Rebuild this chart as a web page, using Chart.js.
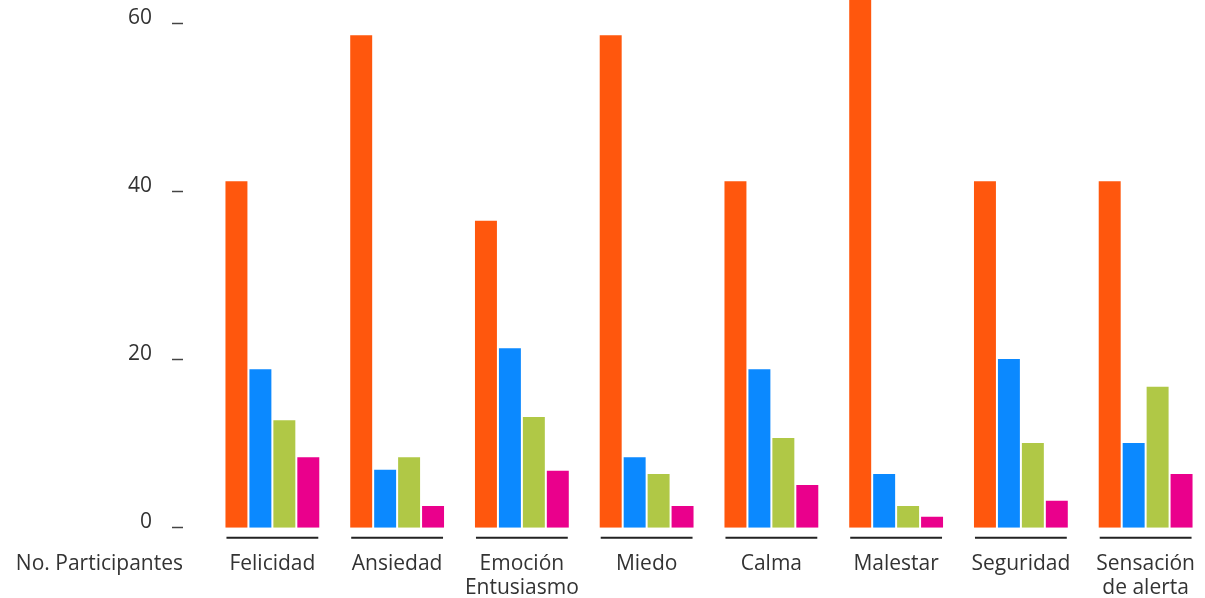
<!DOCTYPE html>
<html lang="es">
<head>
<meta charset="utf-8">
<title>No. Participantes por emoción</title>
<script src="https://cdn.jsdelivr.net/npm/chart.js@4.4.1/dist/chart.umd.min.js"></script>
<style>
  html, body { margin: 0; padding: 0; background: #fff; overflow: hidden; }
  #contenedor { width: 1211px; height: 598px; position: relative; }
</style>
</head>
<body>
<div id="contenedor"><canvas id="grafico"></canvas></div>
<script>
// Datos
const categorias = ["Felicidad", "Ansiedad", ["Emoción", "Entusiasmo"], "Miedo", "Calma", "Malestar", "Seguridad", ["Sensación", "de alerta"]];
const serieNaranja = [41.3, 58.7, 36.6, 58.7, 41.3, 65, 41.3, 41.3];
const serieAzul = [18.9, 6.9, 21.4, 8.4, 18.9, 6.4, 20.1, 10.1];
const serieVerde = [12.8, 8.4, 13.2, 6.4, 10.7, 2.6, 10.1, 16.8];
const serieRosa = [8.4, 2.6, 6.8, 2.6, 5.1, 1.3, 3.2, 6.4];
const ticksY = [0, 20, 40, 60];
const tituloEje = "No. Participantes";

const colores = ["#ff570d", "#0b89ff", "#b0c846", "#ea008c"];
const fuente = { family: "'Open Sans', sans-serif", size: 21, weight: 400, lineHeight: 1.15 };
const colorTexto = "#333";

// Guiones junto a las etiquetas del eje Y, línea bajo cada grupo y título del eje
const decoraciones = {
  id: "decoraciones",
  afterDraw(chart) {
    const { ctx, chartArea, scales } = chart;
    ctx.save();

    // guiones del eje Y
    ctx.strokeStyle = "#444";
    ctx.lineWidth = 1.5;
    scales.y.ticks.forEach(t => {
      const y = Math.round(scales.y.getPixelForValue(t.value)) - 0.5;
      ctx.beginPath();
      ctx.moveTo(chartArea.left - 38, y);
      ctx.lineTo(chartArea.left - 27, y);
      ctx.stroke();
    });

    // línea bajo cada grupo de barras
    const primero = chart.getDatasetMeta(0).data;
    const ultimo = chart.getDatasetMeta(chart.data.datasets.length - 1).data;
    ctx.strokeStyle = "#222";
    ctx.lineWidth = 2;
    const yLinea = chartArea.bottom + 10;
    primero.forEach((barra, i) => {
      const fin = ultimo[i];
      ctx.beginPath();
      ctx.moveTo(barra.x - barra.width / 2 + 1, yLinea);
      ctx.lineTo(fin.x + fin.width / 2 - 1, yLinea);
      ctx.stroke();
    });

    // título a la izquierda de las categorías
    ctx.fillStyle = colorTexto;
    ctx.font = `${fuente.weight} ${fuente.size}px ${fuente.family}`;
    ctx.textAlign = "right";
    ctx.textBaseline = "middle";
    ctx.fillText(tituloEje, chartArea.left - 27, chartArea.bottom + 36);
    ctx.restore();
  }
};

new Chart(document.getElementById("grafico"), {
  type: "bar",
  data: {
    labels: categorias,
    datasets: [serieNaranja, serieAzul, serieVerde, serieRosa].map((serie, i) => ({
      data: serie,
      backgroundColor: colores[i],
      borderWidth: 0,
      categoryPercentage: 0.768,
      barPercentage: 0.917
    }))
  },
  options: {
    responsive: true,
    maintainAspectRatio: false,
    animation: false,
    layout: { padding: 0 },
    plugins: {
      legend: { display: false },
      tooltip: { enabled: false }
    },
    scales: {
      x: {
        offset: true,
        grid: { display: false },
        border: { display: false },
        ticks: { color: colorTexto, font: fuente, padding: 16, maxRotation: 0, autoSkip: false },
        afterFit(scale) { scale.height = 70.3; }
      },
      y: {
        min: 0,
        max: 62.9,
        grid: { display: false, drawTicks: false },
        border: { display: false },
        afterBuildTicks(scale) {
          scale.ticks = ticksY.map(v => ({ value: v }));
        },
        ticks: { color: colorTexto, font: fuente, padding: 58, labelOffset: -6 },
        afterFit(scale) {
          scale.width = 210;
          scale.paddingTop = 0;
          scale.paddingBottom = 0;
        }
      }
    }
  },
  plugins: [decoraciones]
});
</script>
</body>
</html>
